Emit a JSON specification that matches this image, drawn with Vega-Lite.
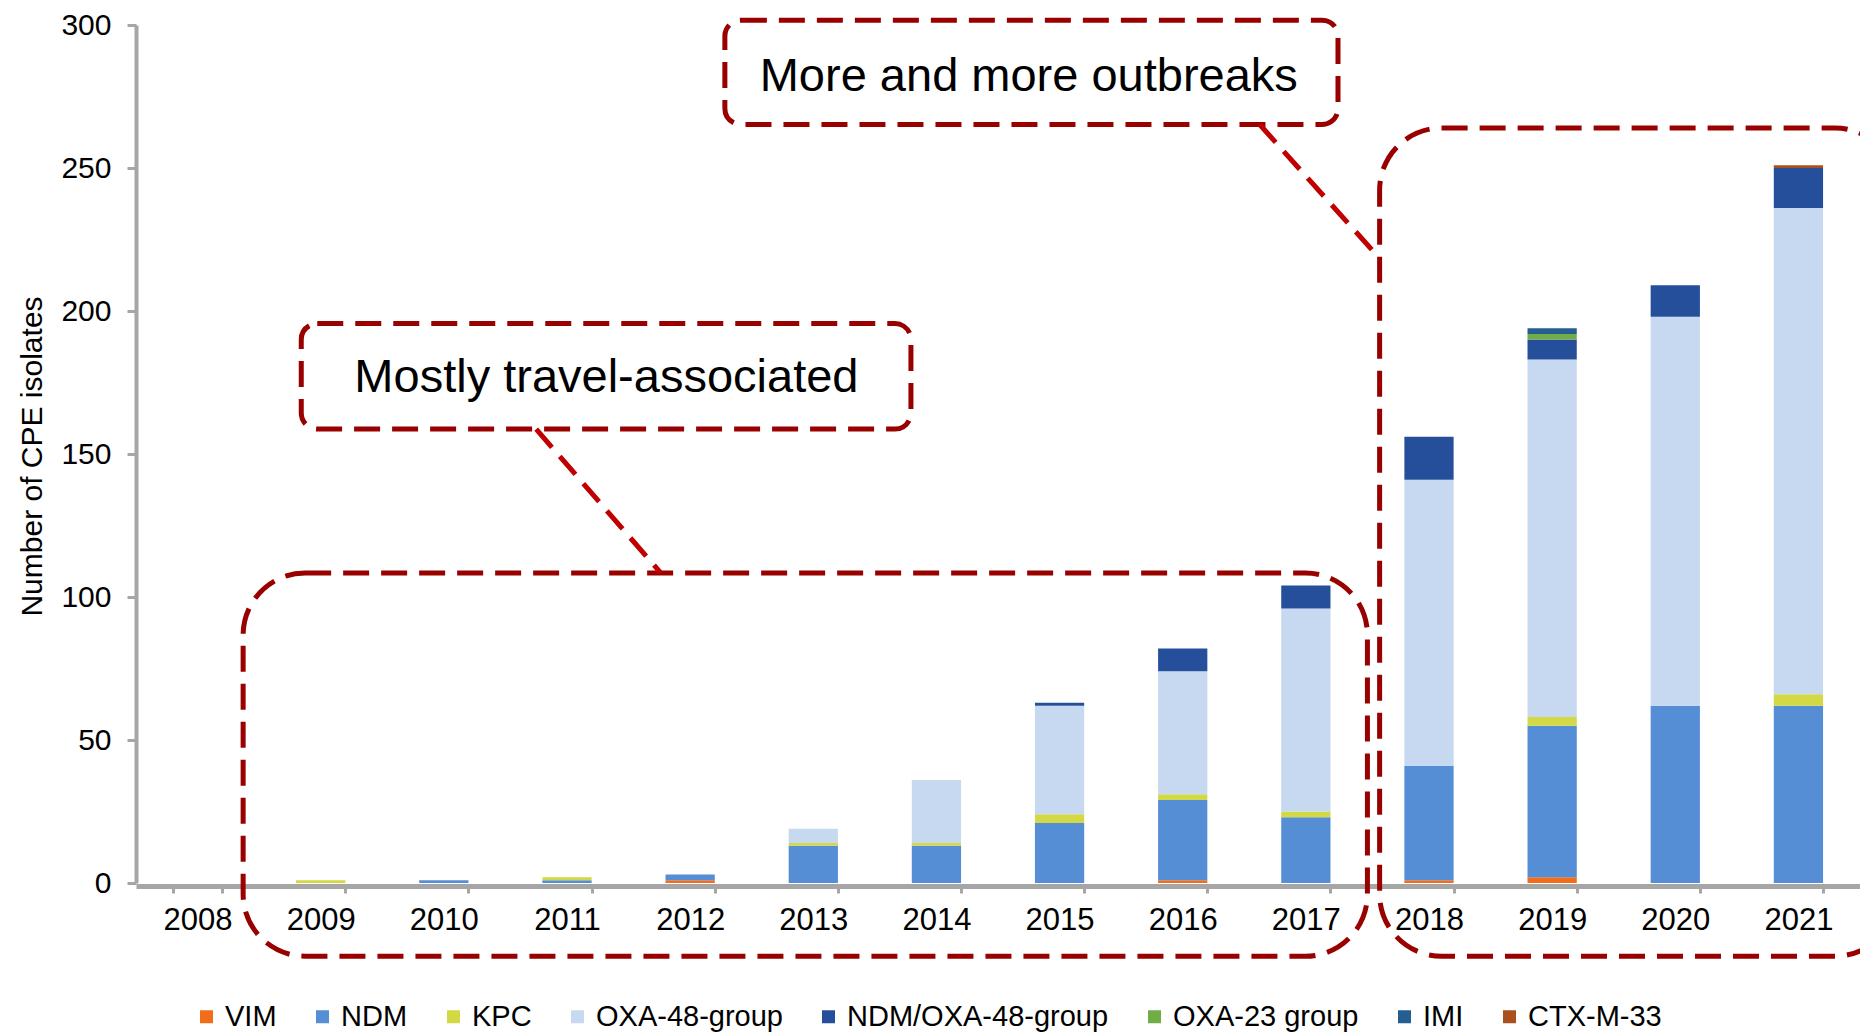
{
  "$schema": "https://vega.github.io/schema/vega-lite/v6.json",
  "width": 1724,
  "height": 858,
  "autosize": {"type": "none"},
  "padding": {"left": 136, "top": 25, "right": 0, "bottom": 153},
  "background": "white",
  "config": {"view": {"stroke": null}, "font": "Liberation Sans"},
  "datasets": {
    "cpe": [
      {"year": "2009", "type": "KPC", "k": 3, "n": 1},
      {"year": "2010", "type": "NDM", "k": 2, "n": 1},
      {"year": "2011", "type": "NDM", "k": 2, "n": 1},
      {"year": "2011", "type": "KPC", "k": 3, "n": 1},
      {"year": "2012", "type": "VIM", "k": 1, "n": 1},
      {"year": "2012", "type": "NDM", "k": 2, "n": 2},
      {"year": "2013", "type": "NDM", "k": 2, "n": 13},
      {"year": "2013", "type": "KPC", "k": 3, "n": 1},
      {"year": "2013", "type": "OXA-48-group", "k": 4, "n": 5},
      {"year": "2014", "type": "NDM", "k": 2, "n": 13},
      {"year": "2014", "type": "KPC", "k": 3, "n": 1},
      {"year": "2014", "type": "OXA-48-group", "k": 4, "n": 22},
      {"year": "2015", "type": "NDM", "k": 2, "n": 21},
      {"year": "2015", "type": "KPC", "k": 3, "n": 3},
      {"year": "2015", "type": "OXA-48-group", "k": 4, "n": 38},
      {"year": "2015", "type": "NDM/OXA-48-group", "k": 5, "n": 1},
      {"year": "2016", "type": "VIM", "k": 1, "n": 1},
      {"year": "2016", "type": "NDM", "k": 2, "n": 28},
      {"year": "2016", "type": "KPC", "k": 3, "n": 2},
      {"year": "2016", "type": "OXA-48-group", "k": 4, "n": 43},
      {"year": "2016", "type": "NDM/OXA-48-group", "k": 5, "n": 8},
      {"year": "2017", "type": "NDM", "k": 2, "n": 23},
      {"year": "2017", "type": "KPC", "k": 3, "n": 2},
      {"year": "2017", "type": "OXA-48-group", "k": 4, "n": 71},
      {"year": "2017", "type": "NDM/OXA-48-group", "k": 5, "n": 8},
      {"year": "2018", "type": "VIM", "k": 1, "n": 1},
      {"year": "2018", "type": "NDM", "k": 2, "n": 40},
      {"year": "2018", "type": "OXA-48-group", "k": 4, "n": 100},
      {"year": "2018", "type": "NDM/OXA-48-group", "k": 5, "n": 15},
      {"year": "2019", "type": "VIM", "k": 1, "n": 2},
      {"year": "2019", "type": "NDM", "k": 2, "n": 53},
      {"year": "2019", "type": "KPC", "k": 3, "n": 3},
      {"year": "2019", "type": "OXA-48-group", "k": 4, "n": 125},
      {"year": "2019", "type": "NDM/OXA-48-group", "k": 5, "n": 7},
      {"year": "2019", "type": "OXA-23 group", "k": 6, "n": 2},
      {"year": "2019", "type": "IMI", "k": 7, "n": 2},
      {"year": "2020", "type": "NDM", "k": 2, "n": 62},
      {"year": "2020", "type": "OXA-48-group", "k": 4, "n": 136},
      {"year": "2020", "type": "NDM/OXA-48-group", "k": 5, "n": 11},
      {"year": "2021", "type": "NDM", "k": 2, "n": 62},
      {"year": "2021", "type": "KPC", "k": 3, "n": 4},
      {"year": "2021", "type": "OXA-48-group", "k": 4, "n": 170},
      {"year": "2021", "type": "NDM/OXA-48-group", "k": 5, "n": 14},
      {"year": "2021", "type": "CTX-M-33", "k": 8, "n": 1}
    ],
    "smallBoxes": [
      {"box": "travel", "x1": 1.342, "x2": 6.293, "y1": 158.7, "y2": 195.6},
      {"box": "outbreaks", "x1": 4.782, "x2": 9.761, "y1": 265.2, "y2": 301.7}
    ],
    "largeBoxes": [
      {"box": "early", "x1": 0.87, "x2": 10.0, "y1": -25.6, "y2": 108.4},
      {"box": "late", "x1": 10.099, "x2": 14.3, "y1": -25.6, "y2": 264.0}
    ],
    "links": [
      {"link": "travel", "x1": 3.25, "y1": 158.7, "x2": 4.261, "y2": 108.4},
      {"link": "outbreaks", "x1": 9.125, "y1": 265.2, "x2": 10.099, "y2": 218.4}
    ],
    "notes": [
      {"label": "Mostly travel-associated", "x": 3.82, "y": 176.4},
      {"label": "More and more outbreaks", "x": 7.25, "y": 281.8}
    ]
  },
  "layer": [
    {
      "data": {"name": "cpe"},
      "mark": {"type": "bar"},
      "encoding": {
        "x": {
          "field": "year",
          "type": "ordinal",
          "scale": {
            "domain": ["2008", "2009", "2010", "2011", "2012", "2013", "2014", "2015", "2016", "2017", "2018", "2019", "2020", "2021"],
            "paddingInner": 0.6,
            "paddingOuter": 0.3
          },
          "axis": {
            "title": null,
            "labelAngle": 0,
            "labelFont": "Liberation Sans",
            "labelFontSize": 31,
            "labelColor": "#000000",
            "labelPadding": 12,
            "tickBand": "extent",
            "tickSize": 7,
            "tickWidth": 3,
            "tickColor": "#A6A6A6",
            "domainColor": "#A6A6A6",
            "domainWidth": 5,
            "offset": 3
          }
        },
        "y": {
          "field": "n",
          "type": "quantitative",
          "stack": "zero",
          "scale": {"domain": [0, 300], "nice": false},
          "axis": {
            "title": "Number of CPE isolates",
            "titleFont": "Liberation Sans",
            "titleFontSize": 30,
            "titleFontWeight": "normal",
            "titleColor": "#000000",
            "titleX": -104,
            "titleY": 431,
            "titleBaseline": "middle",
            "values": [0, 50, 100, 150, 200, 250, 300],
            "labelFont": "Liberation Sans",
            "labelFontSize": 30,
            "labelColor": "#000000",
            "labelPadding": 16,
            "tickSize": 9,
            "tickWidth": 3,
            "tickColor": "#A6A6A6",
            "domainColor": "#A6A6A6",
            "domainWidth": 4,
            "grid": false
          }
        },
        "color": {
          "field": "type",
          "type": "nominal",
          "scale": {
            "domain": ["VIM", "NDM", "KPC", "OXA-48-group", "NDM/OXA-48-group", "OXA-23 group", "IMI", "CTX-M-33"],
            "range": ["#F26D1B", "#558ED5", "#D2D944", "#C6D9F0", "#254F9B", "#70AD47", "#255E91", "#A9501C"]
          },
          "legend": {
            "orient": "none",
            "legendX": 56,
            "legendY": 977,
            "direction": "horizontal",
            "columns": 8,
            "columnPadding": 31,
            "title": null,
            "padding": 0,
            "labelFont": "Liberation Sans",
            "labelFontSize": 29,
            "labelColor": "#000000",
            "labelLimit": 0,
            "labelOffset": 4,
            "symbolType": "square",
            "symbolSize": 169,
            "symbolStrokeWidth": 0,
            "symbolOpacity": 1
          }
        },
        "order": {"field": "k", "type": "quantitative", "sort": "ascending"}
      }
    },
    {
      "data": {"name": "smallBoxes"},
      "mark": {"type": "rect", "fill": "white", "fillOpacity": 0, "stroke": "#990000", "strokeWidth": 5, "strokeDash": [26, 12], "cornerRadius": 16},
      "encoding": {
        "x": {"field": "x1", "type": "quantitative", "scale": {"domain": [0, 14], "nice": false, "zero": false}, "axis": null},
        "x2": {"field": "x2"},
        "y": {"field": "y1", "type": "quantitative", "scale": {"domain": [0, 300], "nice": false, "zero": false}, "axis": null},
        "y2": {"field": "y2"}
      }
    },
    {
      "data": {"name": "largeBoxes"},
      "mark": {"type": "rect", "fill": "white", "fillOpacity": 0, "stroke": "#990000", "strokeWidth": 5, "strokeDash": [26, 12], "cornerRadius": 62},
      "encoding": {
        "x": {"field": "x1", "type": "quantitative", "scale": {"domain": [0, 14], "nice": false, "zero": false}, "axis": null},
        "x2": {"field": "x2"},
        "y": {"field": "y1", "type": "quantitative", "scale": {"domain": [0, 300], "nice": false, "zero": false}, "axis": null},
        "y2": {"field": "y2"}
      }
    },
    {
      "data": {"name": "links"},
      "mark": {"type": "rule", "stroke": "#C00000", "strokeWidth": 5, "strokeDash": [24, 12]},
      "encoding": {
        "x": {"field": "x1", "type": "quantitative", "scale": {"domain": [0, 14], "nice": false, "zero": false}, "axis": null},
        "x2": {"field": "x2"},
        "y": {"field": "y1", "type": "quantitative", "scale": {"domain": [0, 300], "nice": false, "zero": false}, "axis": null},
        "y2": {"field": "y2"}
      }
    },
    {
      "data": {"name": "notes"},
      "mark": {"type": "text", "font": "Liberation Sans", "fontSize": 47, "color": "#000000", "align": "center", "baseline": "middle"},
      "encoding": {
        "x": {"field": "x", "type": "quantitative", "scale": {"domain": [0, 14], "nice": false, "zero": false}, "axis": null},
        "y": {"field": "y", "type": "quantitative", "scale": {"domain": [0, 300], "nice": false, "zero": false}, "axis": null},
        "text": {"field": "label", "type": "nominal"}
      }
    }
  ],
  "resolve": {"scale": {"x": "independent", "y": "independent"}}
}
